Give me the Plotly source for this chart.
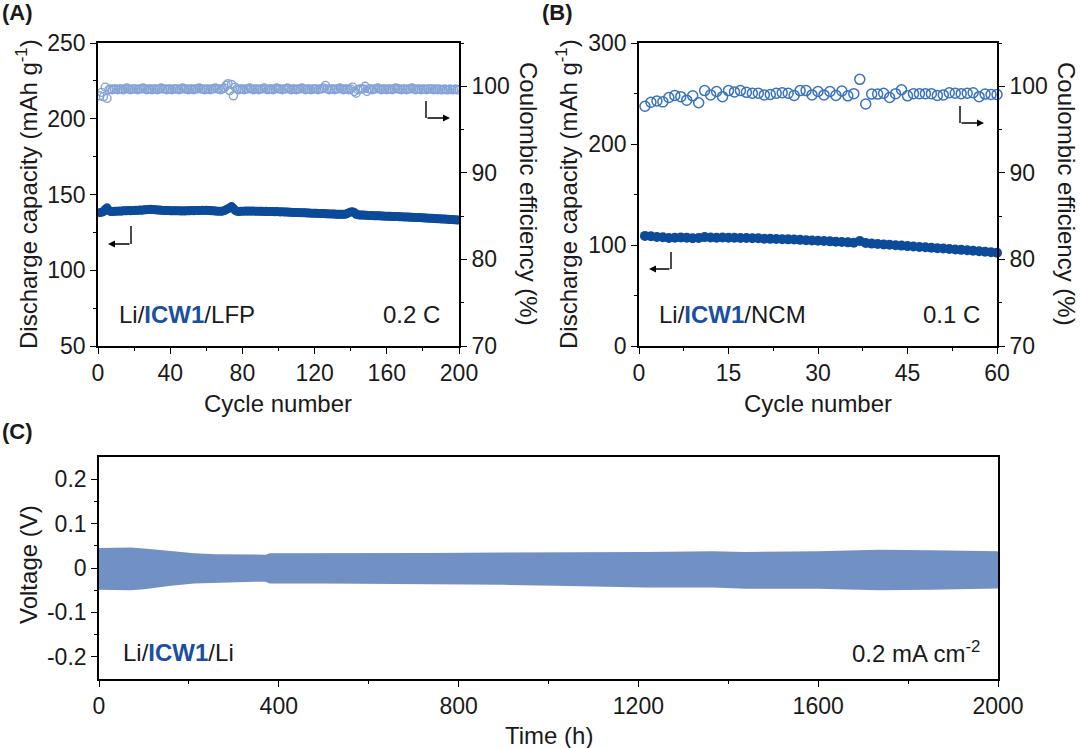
"""
ICW1 cell cycling figure: LFP / NCM cycling and Li symmetric cell voltage.
"""

import plotly.graph_objects as go

W, H = 1080, 748
FONT = "Liberation Sans, Arial, sans-serif"

# ─────────────────────────────────────────────────────────────────────────────
# Data
# ─────────────────────────────────────────────────────────────────────────────
# (A) Li/ICW1/LFP, 0.2 C, 200 cycles
lfp_capacity = [
    138.0, 138.3, 138.8, 140.2, 141.2, 139.6, 138.8, 138.7, 138.9, 139.0,
    139.0, 139.1, 139.0, 139.2, 139.3, 139.2, 139.4, 139.3, 139.5, 139.4,
    139.6, 139.5, 139.7, 139.6, 139.8, 139.9, 140.0, 140.1, 140.2, 140.1,
    140.0, 139.9, 139.8, 139.7, 139.6, 139.5, 139.5, 139.4, 139.4, 139.3,
    139.3, 139.2, 139.3, 139.2, 139.2, 139.1, 139.2, 139.1, 139.2, 139.3,
    139.3, 139.4, 139.3, 139.4, 139.5, 139.4, 139.5, 139.6, 139.5, 139.6,
    139.5, 139.4, 139.3, 139.2, 139.1, 139.0, 139.0, 138.9, 139.0, 139.4,
    140.0, 140.6, 141.2, 142.0, 141.0, 139.5, 138.9, 138.8, 138.9, 139.0,
    139.0, 139.1, 139.0, 139.1, 139.0, 139.1, 139.0, 138.9, 139.0, 138.9,
    138.9, 138.8, 138.9, 138.8, 138.7, 138.8, 138.7, 138.6, 138.7, 138.6,
    138.5, 138.6, 138.5, 138.4, 138.4, 138.3, 138.3, 138.2, 138.2, 138.1,
    138.1, 138.0, 138.0, 137.9, 137.9, 137.8, 137.8, 137.7, 137.7, 137.6,
    137.6, 137.5, 137.5, 137.4, 137.4, 137.3, 137.3, 137.2, 137.2, 137.1,
    137.1, 137.0, 137.0, 136.9, 136.9, 136.9, 137.0, 137.4, 138.0, 138.4,
    138.6, 138.2, 137.0, 136.6, 136.5, 136.4, 136.4, 136.3, 136.3, 136.2,
    136.1, 136.1, 136.0, 136.0, 135.9, 135.9, 135.8, 135.8, 135.7, 135.7,
    135.6, 135.6, 135.5, 135.5, 135.4, 135.4, 135.3, 135.3, 135.2, 135.2,
    135.1, 135.1, 135.0, 135.0, 134.9, 134.9, 134.8, 134.8, 134.7, 134.6,
    134.5, 134.5, 134.4, 134.3, 134.3, 134.2, 134.1, 134.0, 134.0, 133.9,
    133.8, 133.8, 133.7, 133.6, 133.5, 133.5, 133.4, 133.3, 133.2, 133.1,
]
lfp_ce = [
    98.9, 99.3, 98.8, 99.9, 98.6, 99.6, 99.7, 99.6, 99.7, 99.7,
    99.6, 99.7, 99.7, 99.6, 99.7, 99.8, 99.7, 99.6, 99.7, 99.7,
    99.7, 99.6, 99.7, 99.7, 99.8, 99.7, 99.6, 99.7, 99.7, 99.6,
    99.7, 99.7, 99.6, 99.7, 99.8, 99.7, 99.7, 99.6, 99.7, 99.7,
    99.6, 99.7, 99.7, 99.7, 99.6, 99.7, 99.8, 99.7, 99.7, 99.6,
    99.7, 99.7, 99.6, 99.7, 99.7, 99.8, 99.7, 99.7, 99.6, 99.7,
    99.7, 99.6, 99.7, 99.7, 99.8, 99.7, 99.7, 99.6, 99.7, 99.8,
    100.1, 100.3, 99.5, 100.2, 98.9, 99.9, 99.7, 99.6, 99.7, 99.7,
    99.6, 99.7, 99.7, 99.8, 99.7, 99.6, 99.7, 99.7, 99.6, 99.7,
    99.7, 99.8, 99.7, 99.6, 99.7, 99.7, 99.6, 99.7, 99.8, 99.7,
    99.7, 99.6, 99.7, 99.7, 99.8, 99.7, 99.6, 99.7, 99.7, 99.6,
    99.7, 99.7, 99.8, 99.7, 99.6, 99.7, 99.7, 99.6, 99.7, 99.7,
    99.7, 99.6, 99.7, 99.7, 99.8, 100.1, 99.7, 99.6, 99.7, 99.7,
    99.6, 99.7, 99.7, 99.8, 99.7, 99.6, 99.7, 99.7, 99.6, 99.7,
    99.9, 99.4, 99.2, 99.6, 99.7, 99.7, 99.7, 100.0, 99.4, 99.7,
    99.7, 99.6, 99.7, 99.7, 99.8, 99.7, 99.6, 99.7, 99.7, 99.6,
    99.7, 99.7, 99.6, 99.7, 99.8, 99.7, 99.7, 99.6, 99.7, 99.7,
    99.6, 99.7, 99.7, 99.8, 99.7, 99.6, 99.7, 99.7, 99.6, 99.7,
    99.7, 99.6, 99.7, 99.7, 99.7, 99.6, 99.7, 99.6, 99.7, 99.6,
    99.6, 99.7, 99.6, 99.6, 99.7, 99.6, 99.6, 99.7, 99.6, 99.6,
]
lfp_cycles = list(range(1, len(lfp_capacity) + 1))

# (B) Li/ICW1/NCM, 0.1 C, 60 cycles
ncm_capacity = [
    109.0, 108.6, 108.0, 107.6, 107.0, 107.2, 107.4, 107.3, 106.6, 107.0,
    107.8, 107.4, 107.2, 107.5, 107.2, 107.1, 107.0, 106.9, 106.8, 106.6,
    106.3, 106.1, 106.0, 105.8, 105.6, 105.4, 105.1, 104.8, 104.5, 104.2,
    103.9, 103.6, 103.3, 103.0, 102.6, 102.2, 104.0, 102.0, 101.4, 101.0,
    100.6, 100.2, 99.8, 99.4, 98.9, 98.5, 98.1, 97.7, 97.3, 96.9,
    96.5, 96.1, 95.6, 95.2, 94.8, 94.3, 93.8, 93.3, 92.8, 92.3,
]
ncm_ce = [
    97.7, 98.15, 98.3, 98.2, 98.7, 98.95, 98.8, 98.4, 98.9, 98.1,
    99.5, 99.0, 99.4, 98.8, 99.5, 99.35, 99.5, 99.3, 99.2, 99.2,
    99.0, 99.05, 99.2, 99.25, 99.2, 98.95, 99.5, 99.5, 99.0, 99.4,
    99.0, 99.4, 98.95, 99.45, 98.9, 99.15, 100.8, 97.95, 99.1, 99.1,
    99.2, 98.7, 99.15, 99.6, 98.9, 99.15, 99.15, 99.15, 99.15, 98.95,
    99.0, 99.25, 99.2, 99.15, 99.2, 99.25, 98.8, 99.1, 99.05, 99.05,
]
ncm_cycles = list(range(1, len(ncm_capacity) + 1))

# (C) Li/ICW1/Li symmetric cell, 0.2 mA cm-2: voltage envelope of the polarization band
time_h = [0, 30, 70, 100, 160, 212, 260, 346, 370, 380, 500, 731, 900,
          1015, 1215, 1365, 1438, 1600, 1735, 1850, 1958, 2000]
volt_upper = [0.045, 0.046, 0.046, 0.044, 0.038, 0.033, 0.031, 0.030, 0.030,
              0.033, 0.033, 0.034, 0.035, 0.035, 0.036, 0.038, 0.036, 0.038,
              0.041, 0.040, 0.039, 0.038]
volt_lower = [-0.049, -0.050, -0.050, -0.048, -0.040, -0.035, -0.033, -0.031,
              -0.031, -0.035, -0.035, -0.036, -0.038, -0.040, -0.044, -0.044,
              -0.047, -0.047, -0.050, -0.049, -0.047, -0.046]

volt_tickvals = [-0.2, -0.1, 0, 0.1, 0.2]
volt_ticktext = ["-0.2", "-0.1", "0", "0.1", "0.2"]

# colours
DARK_BLUE = "#0c4a9a"
LIGHT_BLUE = "#86a3d6"
MID_BLUE = "#3a72bd"
BAND = "#7190c3"
ICW = "#1a50a0"


def px_x(px):
    return px / W


def px_y(py):
    return 1 - py / H


# ─────────────────────────────────────────────────────────────────────────────
# Traces
# ─────────────────────────────────────────────────────────────────────────────
fig = go.Figure()

fig.add_trace(go.Scatter(
    x=lfp_cycles, y=lfp_ce, xaxis="x", yaxis="y2", mode="markers",
    marker=dict(symbol="circle-open", size=8, color=LIGHT_BLUE, line=dict(width=1.4)),
    showlegend=False,
))
fig.add_trace(go.Scatter(
    x=lfp_cycles, y=lfp_capacity, xaxis="x", yaxis="y", mode="markers",
    marker=dict(symbol="circle", size=9, color=DARK_BLUE),
    showlegend=False,
))

fig.add_trace(go.Scatter(
    x=ncm_cycles, y=ncm_ce, xaxis="x2", yaxis="y4", mode="markers",
    marker=dict(symbol="circle-open", size=10, color=MID_BLUE, line=dict(width=1.5)),
    cliponaxis=False, showlegend=False,
))
fig.add_trace(go.Scatter(
    x=ncm_cycles, y=ncm_capacity, xaxis="x2", yaxis="y3", mode="markers",
    marker=dict(symbol="circle", size=10, color=DARK_BLUE),
    cliponaxis=False, showlegend=False,
))

fig.add_trace(go.Scatter(
    x=time_h, y=volt_upper, xaxis="x3", yaxis="y5", mode="lines",
    line=dict(width=0, color=BAND), showlegend=False,
))
fig.add_trace(go.Scatter(
    x=time_h, y=volt_lower, xaxis="x3", yaxis="y5", mode="lines",
    line=dict(width=0, color=BAND), fill="tonexty", fillcolor=BAND, showlegend=False,
))

# ─────────────────────────────────────────────────────────────────────────────
# Axes
# ─────────────────────────────────────────────────────────────────────────────
tick_font = dict(family=FONT, size=23, color="#1a1a1a")


def axis(**kw):
    base = dict(
        showline=True, linecolor="black", linewidth=1.6, ticks="outside",
        ticklen=6, tickwidth=1.4, tickcolor="black", showgrid=False,
        zeroline=False, tickfont=tick_font, fixedrange=True, automargin=False,
    )
    base.update(kw)
    return base


def minor(d):
    return dict(dtick=d, ticks="outside", ticklen=3.5, tickwidth=1.2,
                tickcolor="black", showgrid=False)


top_dom = [px_y(346), px_y(43)]

fig.update_layout(
    xaxis=axis(domain=[px_x(98), px_x(459)], range=[0, 200], tick0=0, dtick=40,
               minor=minor(20), anchor="y", mirror=True),
    yaxis=axis(domain=top_dom, range=[50, 250], tick0=50, dtick=50,
               minor=minor(25), anchor="x"),
    yaxis2=axis(domain=top_dom, range=[70, 105], tick0=70, dtick=10,
                minor=minor(5), anchor="x", overlaying="y", side="right"),
    xaxis2=axis(domain=[px_x(639), px_x(997)], range=[0, 60], tick0=0, dtick=15,
                minor=minor(7.5), anchor="y3", mirror=True),
    yaxis3=axis(domain=top_dom, range=[0, 300], tick0=0, dtick=100,
                minor=minor(50), anchor="x2"),
    yaxis4=axis(domain=top_dom, range=[70, 105], tick0=70, dtick=10,
                minor=minor(5), anchor="x2", overlaying="y3", side="right"),
    xaxis3=axis(domain=[px_x(99), px_x(998)], range=[0, 2000], tick0=0, dtick=400,
                minor=minor(200), anchor="y5", mirror=True),
    yaxis5=axis(domain=[px_y(679), px_y(457)], range=[-0.25, 0.25],
                tickmode="array", tickvals=volt_tickvals, ticktext=volt_ticktext,
                minor=dict(tickvals=[-0.15, -0.05, 0.05, 0.15], ticks="outside",
                           ticklen=3.5, tickwidth=1.2, tickcolor="black"),
                anchor="x3", mirror=True),
    width=W, height=H, autosize=False,
    margin=dict(l=0, r=0, t=0, b=0, pad=0, autoexpand=False),
    paper_bgcolor="white", plot_bgcolor="white",
    font=dict(family=FONT, color="#1a1a1a"),
)


# ─────────────────────────────────────────────────────────────────────────────
# Text
# ─────────────────────────────────────────────────────────────────────────────
def label(text, px, py, size=24, angle=0, xanchor="center", bold=False):
    if bold:
        text = f"<b>{text}</b>"
    fig.add_annotation(
        text=text, x=px_x(px), y=px_y(py), xref="paper", yref="paper",
        showarrow=False, textangle=angle, xanchor=xanchor, yanchor="middle",
        font=dict(family=FONT, size=size, color="#1a1a1a"),
    )


icw = f"<b><span style='color:{ICW}'>ICW1</span></b>"

# panel tags
label("(A)", 0, 13, size=22, xanchor="left", bold=True)
label("(B)", 540, 13, size=22, xanchor="left", bold=True)
label("(C)", 0, 431, size=22, xanchor="left", bold=True)

# axis titles
label("Cycle number", 278, 403)
label("Cycle number", 818, 403)
label("Time (h)", 549, 735)
label("Discharge capacity (mAh g<sup>-1</sup>)", 27, 194, angle=-90)
label("Discharge capacity (mAh g<sup>-1</sup>)", 567, 194, angle=-90)
label("Coulombic efficiency (%)", 528, 194, angle=90)
label("Coulombic efficiency (%)", 1066, 194, angle=90)
label("Voltage (V)", 28, 565, angle=-90)

# cell labels
label(f"Li/{icw}/LFP", 117, 314, xanchor="left")
label("0.2 C", 442, 314, xanchor="right")
label(f"Li/{icw}/NCM", 657, 314, xanchor="left")
label("0.1 C", 982, 314, xanchor="right")
label(f"Li/{icw}/Li", 121, 652, xanchor="left")
label("0.2 mA cm<sup>-2</sup>", 982, 652, xanchor="right")


# L-shaped arrows pointing to the relevant axis
def bent_arrow(vx, y0, y1, tip_x):
    fig.add_shape(type="line", xref="paper", yref="paper",
                  x0=px_x(vx), x1=px_x(vx), y0=px_y(y0), y1=px_y(y1),
                  line=dict(color="black", width=1.4))
    fig.add_annotation(
        text="", x=px_x(tip_x), y=px_y(y1), xref="paper", yref="paper",
        ax=vx - tip_x, ay=0, axref="pixel", ayref="pixel",
        showarrow=True, arrowhead=2, arrowsize=1, arrowwidth=1.4, arrowcolor="black",
    )


bent_arrow(131, 226, 244, 108)
bent_arrow(426, 101, 118, 450)
bent_arrow(671, 252, 269, 649)
bent_arrow(960, 106, 123, 984)

# the page's default body margin would shift the figure by 8 px
fig.write_html("out.html", config={"displayModeBar": False},
               post_script="document.body.style.margin='0';")
